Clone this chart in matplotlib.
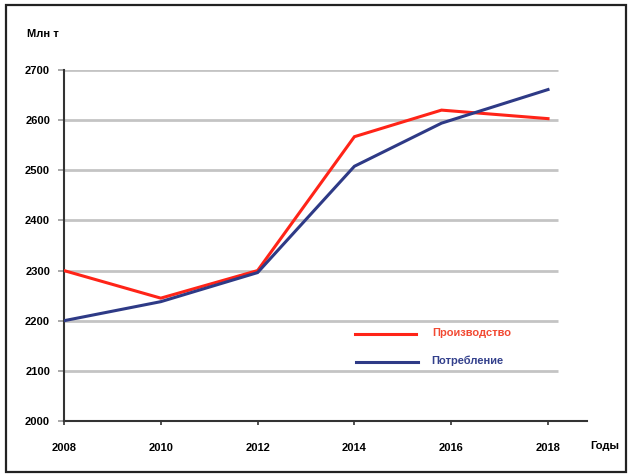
import matplotlib
matplotlib.use("Agg")
import matplotlib.pyplot as plt
from matplotlib.lines import Line2D
from matplotlib.patches import Rectangle

plt.rcParams['font.family'] = ['Liberation Sans Narrow', 'Liberation Sans', 'DejaVu Sans']

years = [2008, 2010, 2012, 2014, 2015.8, 2018]
production = [2300, 2245, 2300, 2567, 2620, 2603]
consumption = [2200, 2238, 2296, 2508, 2594, 2661]
x_ticks = [2008, 2010, 2012, 2014, 2016, 2018]
y_ticks = [2000, 2100, 2200, 2300, 2400, 2500, 2600, 2700]
series_names = ['Производство', 'Потребление']
y_label = 'Млн т'
x_label = 'Годы'

red = '#FF2418'
navy = '#2E3A86'
red_text = '#F24A33'
navy_text = '#33408C'

W, H = 632, 476
fig = plt.figure(figsize=(W / 100, H / 100), dpi=100)
fig.patch.set_facecolor('white')

# outer frame
fig.add_artist(Rectangle((6 / W, 4 / H), (626 - 6) / W, (471 - 4) / H,
                         transform=fig.transFigure, fill=False,
                         edgecolor='#222222', linewidth=1.6))

ax = fig.add_axes([64 / W, 1 - 421 / H, (587 - 64) / W, (421 - 70) / H])
ax.set_xlim(2008, 2008 + (587 - 64) / 48.4)
ax.set_ylim(2000, 2700)

for s in ['top', 'right']:
    ax.spines[s].set_visible(False)
for s in ['left', 'bottom']:
    ax.spines[s].set_color('#333333')
    ax.spines[s].set_linewidth(1.5)

# horizontal grid lines
for yv in y_ticks[1:]:
    ax.hlines(yv, 2008, 2018.2, color='#C4C4C4', linewidth=2, zorder=1)

ax.plot(years, production, color=red, linewidth=2.2, zorder=3, solid_joinstyle='miter')
ax.plot(years, consumption, color=navy, linewidth=2.2, zorder=3, solid_joinstyle='miter')

ax.set_xticks(x_ticks)
ax.set_yticks(y_ticks)
ax.set_xticklabels([str(v) for v in x_ticks], fontsize=8, fontweight='bold')
ax.set_yticklabels([str(v) for v in y_ticks], fontsize=8, fontweight='bold')
ax.tick_params(axis='x', direction='out', length=3, width=1.2, color='#333333', pad=13)
ax.tick_params(axis='y', direction='out', length=4, width=1.2, color='#999999', pad=6)

fig.text(27 / W, 1 - 34 / H, y_label, fontsize=8, fontweight='bold', va='center', ha='left')
fig.text(590 / W, 1 - 446 / H, x_label, fontsize=8, fontweight='bold', va='center', ha='left')

# legend
fig.add_artist(Line2D([355 / W, 416 / W], [1 - 334 / H, 1 - 334 / H], color=red,
                      linewidth=2.2, transform=fig.transFigure))
fig.add_artist(Line2D([356 / W, 418 / W], [1 - 362 / H, 1 - 362 / H], color=navy,
                      linewidth=2.2, transform=fig.transFigure))
fig.text(432 / W, 1 - 333 / H, series_names[0], fontsize=8, fontweight='bold',
         color=red_text, va='center', ha='left')
fig.text(431 / W, 1 - 361 / H, series_names[1], fontsize=8, fontweight='bold',
         color=navy_text, va='center', ha='left')

fig.savefig('out.png', dpi=100)
